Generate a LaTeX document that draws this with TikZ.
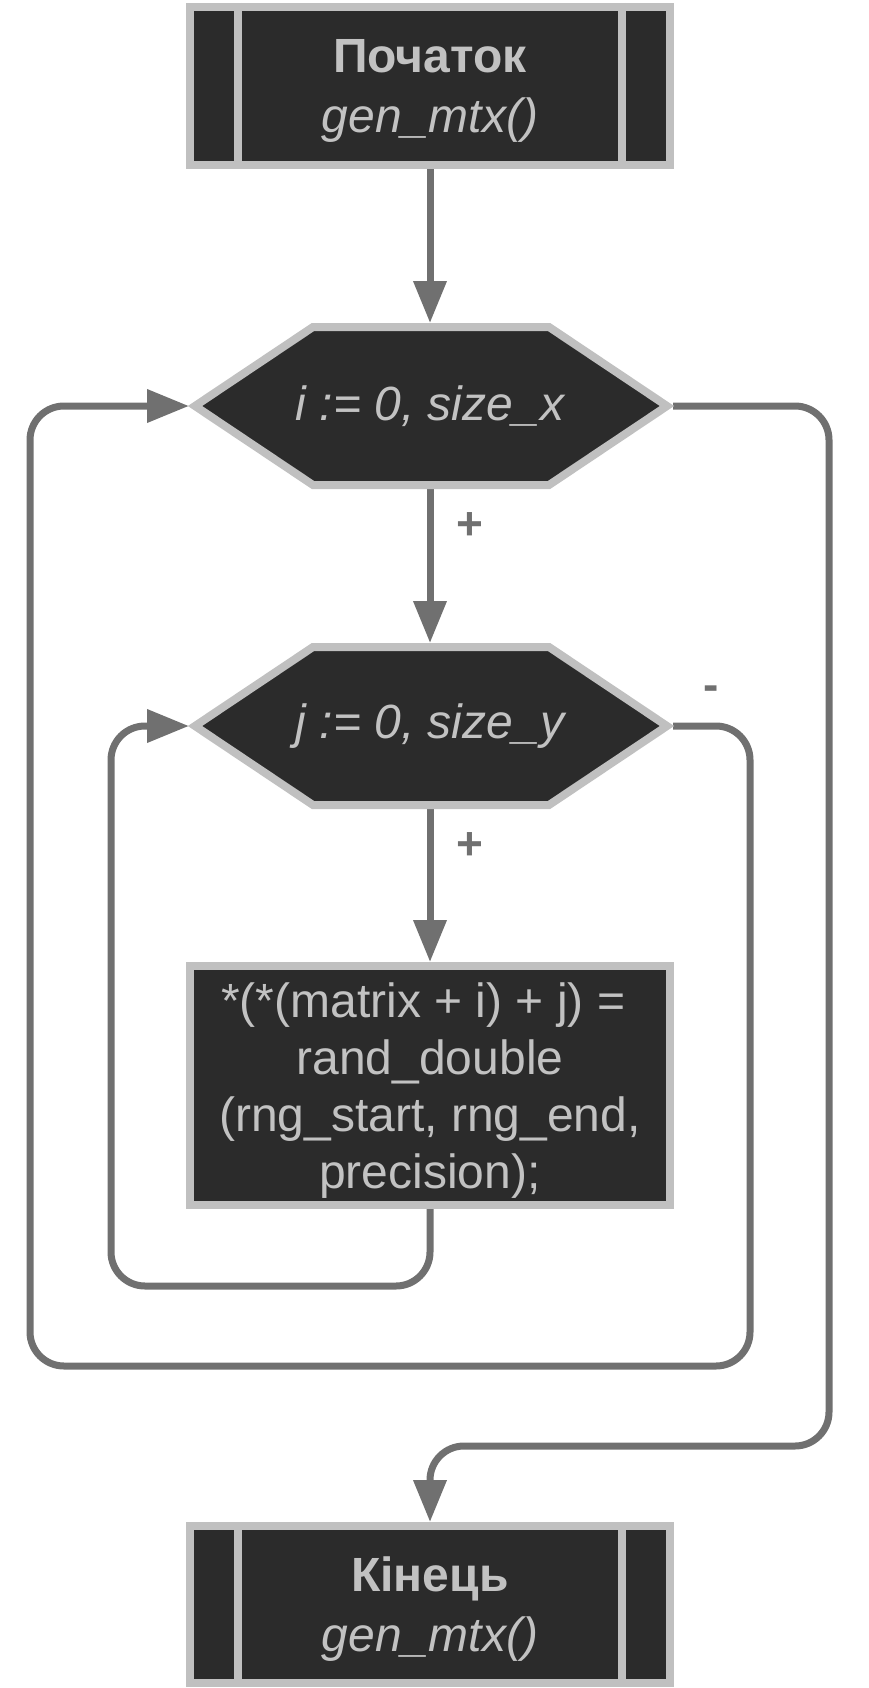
\documentclass[tikz,border=0pt]{standalone}
\usepackage{fontspec}
\setmainfont{Liberation Sans}
\usetikzlibrary{arrows.meta}
\definecolor{boxfill}{HTML}{2B2B2B}
\definecolor{boxline}{HTML}{C0C0C0}
\definecolor{txtcol}{HTML}{C2C2C2}
\definecolor{conncol}{HTML}{707070}
\pgfdeclarelayer{bg}
\pgfsetlayers{bg,main}
\begin{document}
\begin{tikzpicture}[x=1pt,y=-1pt,
  boxst/.style={draw=boxline, fill=boxfill, line width=8pt, minimum width=480pt, inner sep=0pt,
    text=txtcol, align=center, text depth=0pt, font=\fontsize{48}{60}\selectfont},
  hexst/.style={draw=boxline, fill=boxfill, line width=8pt, line join=miter},
  hexlabel/.style={inner sep=0pt, text=txtcol, font=\fontsize{48}{56}\selectfont\itshape},
  sideline/.style={draw=boxline, line width=8pt},
  conn/.style={draw=conncol, line width=7pt, rounded corners=34pt},
  arr/.style={-{Triangle[length=42pt,width=32pt]}},
  lbl/.style={text=conncol, inner sep=0pt, font=\fontsize{46}{46}\selectfont\bfseries}
]
\useasboundingbox (0,0) rectangle (868,1688);

% Start
\node[boxst, minimum height=158pt] (start) at (430,86) {\textbf{Початок}\\\textit{gen\_mtx()}};
\draw[sideline] ([xshift=52pt]start.north west) -- ([xshift=52pt]start.south west);
\draw[sideline] ([xshift=-52pt]start.north east) -- ([xshift=-52pt]start.south east);

% Hexagon 1
\draw[hexst] (195,406) -- (313,327) -- (549,327) -- (667,406) -- (549,485) -- (313,485) -- cycle;
\node[hexlabel] (h1) at (430,406) {i := 0, size\_x};
\coordinate (h1n) at (430,323);
\coordinate (h1s) at (430,489);
\coordinate (h1w) at (189,406);
\coordinate (h1e) at (673,406);

% Hexagon 2
\draw[hexst] (195,726) -- (313,647) -- (549,647) -- (667,726) -- (549,805) -- (313,805) -- cycle;
\node[hexlabel] (h2) at (430,726) {j := 0, size\_y};
\coordinate (h2n) at (430,643);
\coordinate (h2s) at (430,809);
\coordinate (h2w) at (189,726);
\coordinate (h2e) at (673,726);

% Process
\node[boxst, minimum height=239pt, font=\fontsize{48}{57}\selectfont] (proc) at (430,1085.5)
  {*(*(matrix + i) + j) =\hspace*{0.28em}\\rand\_double\\(rng\_start, rng\_end,\\precision);};

% End
\node[boxst, minimum height=157pt] (stop) at (430,1604.5) {\textbf{Кінець}\\\textit{gen\_mtx()}};
\draw[sideline] ([xshift=52pt]stop.north west) -- ([xshift=52pt]stop.south west);
\draw[sideline] ([xshift=-52pt]stop.north east) -- ([xshift=-52pt]stop.south east);

% Labels
\node[lbl] (plus1) at (470,526) {+};
\node[lbl] (plus2) at (470,846) {+};
\node[lbl] (minus) at (711,693) {-};

% Loop corners
\coordinate (c1) at (111,1286);
\coordinate (c2) at (750,1366);
\coordinate (c3) at (30,1366);
\coordinate (c4) at (829,1446);

\begin{pgfonlayer}{bg}
\draw[conn, arr] (start.south) -- (h1n);
\draw[conn, arr] (h1s) -- (h2n);
\draw[conn, arr] (h2s) -- (proc.north);
\draw[conn, arr] (proc.south) |- (c1) |- (h2w);
\draw[conn, arr] (h2e) -| (c2) -- (c3) |- (h1w);
\draw[conn, arr] (h1e) -| (c4) -| (stop.north);
\end{pgfonlayer}
\end{tikzpicture}
\end{document}
